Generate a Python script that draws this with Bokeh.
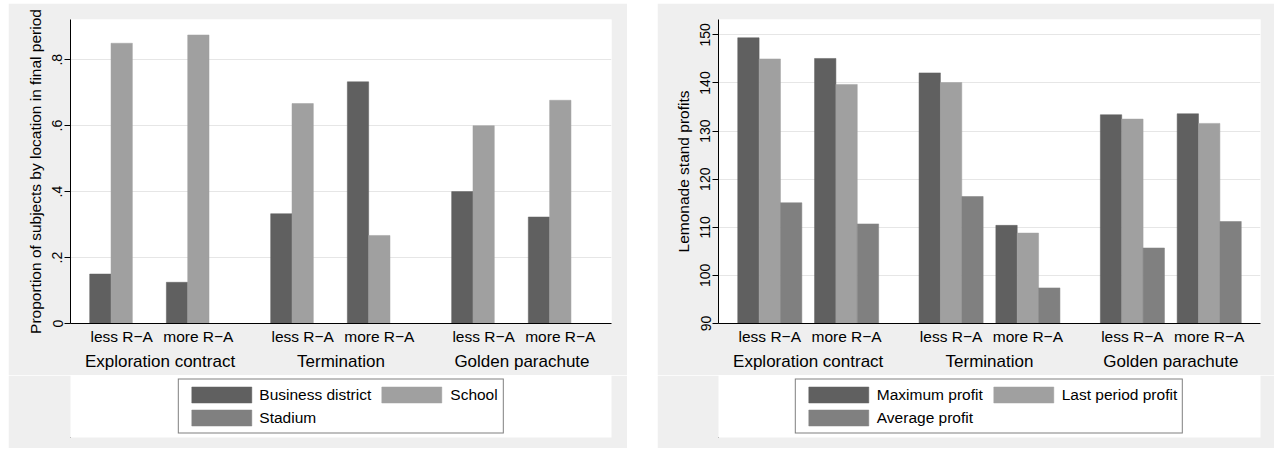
from bokeh.plotting import figure
from bokeh.models import (FactorRange, Range1d, Legend, LegendItem, FixedTicker,
                          ColumnDataSource, Spacer)
from bokeh.layouts import row, column
from bokeh.transform import dodge
from bokeh.embed import file_html
from bokeh.resources import INLINE

# ---------------- data ----------------
contracts = ["Exploration contract", "Termination", "Golden parachute"]
risk_groups = ["less R\u2212A", "more R\u2212A"]

location_series = ["Business district", "School", "Stadium"]
business_district = [0.150, 0.125, 0.333, 0.733, 0.400, 0.323]
school = [0.850, 0.875, 0.667, 0.267, 0.600, 0.677]
stadium = [0.0, 0.0, 0.0, 0.0, 0.0, 0.0]

profit_series = ["Maximum profit", "Last period profit", "Average profit"]
maximum_profit = [149.4, 145.1, 142.1, 110.4, 133.4, 133.6]
last_period_profit = [145.0, 139.7, 140.1, 108.8, 132.5, 131.6]
average_profit = [115.1, 110.7, 116.4, 97.4, 105.7, 111.2]

left_ticks = [0, 0.2, 0.4, 0.6, 0.8]
left_tick_labels = ["0", ".2", ".4", ".6", ".8"]
right_ticks = [90, 100, 110, 120, 130, 140, 150]
right_tick_labels = ["90", "100", "110", "120", "130", "140", "150"]

left_title = "Proportion of subjects by location in final period"
right_title = "Lemonade stand profits"

# ---------------- style ----------------
FONT = "Liberation Sans"
BAR_COLORS = ["#606060", "#a0a0a0", "#808080"]
PANEL_BG = "#efefef"
CHART_H = 372
LEGEND_H = 73
LEGEND_FRAME_H = 62


def make_panel(series_names, series_values, y0, y1, ticks, tick_labels,
               ytitle, width, border_left, border_right):
    factors = [(c, r) for c in contracts for r in risk_groups]
    data = {"x": factors}
    for i, vals in enumerate(series_values):
        data["s%d" % i] = vals
    source = ColumnDataSource(data)

    x_range = FactorRange(*factors, factor_padding=0.198, group_padding=0.63,
                          range_padding=0.30, range_padding_units="absolute")
    p = figure(x_range=x_range, y_range=Range1d(y0, y1), width=width, height=CHART_H,
               output_backend="svg", toolbar_location=None,
               min_border_left=border_left, min_border_right=border_right,
               min_border_top=16, min_border_bottom=CHART_H - 16 - 304)
    p.border_fill_color = PANEL_BG
    p.background_fill_color = "white"
    p.outline_line_color = None

    bw = 1.0 / 3.0
    for i, name in enumerate(series_names):
        p.vbar(x=dodge("x", (i - 1) * bw, range=p.x_range), top="s%d" % i,
               bottom=y0, width=bw, source=source,
               fill_color=BAR_COLORS[i], line_color=BAR_COLORS[i], line_width=0.5)

    # grid
    p.xgrid.grid_line_color = None
    p.ygrid.grid_line_color = "#e6e6e6"
    p.ygrid.grid_line_width = 1.2
    p.ygrid.ticker = FixedTicker(ticks=ticks[1:])

    # y axis
    ya = p.yaxis[0]
    ya.ticker = FixedTicker(ticks=ticks)
    ya.major_label_overrides = {t: l for t, l in zip(ticks, tick_labels)}
    ya.major_label_orientation = "vertical"
    ya.major_label_text_font = FONT
    ya.major_label_text_font_size = "14px"
    ya.major_label_text_color = "black"
    ya.major_label_standoff = 2
    ya.major_tick_out = 6
    ya.major_tick_in = 0
    ya.minor_tick_out = 0
    ya.minor_tick_in = 0
    ya.major_tick_line_color = "black"
    ya.axis_line_color = "black"
    ya.axis_label = ytitle
    ya.axis_label_text_font = FONT
    ya.axis_label_text_font_size = "15.5px"
    ya.axis_label_text_font_style = "normal"
    ya.axis_label_text_color = "black"
    ya.axis_label_standoff = 6

    # x axis
    xa = p.xaxis[0]
    xa.major_tick_out = 0
    xa.major_tick_in = 0
    xa.axis_line_color = "black"
    xa.major_label_text_font = FONT
    xa.major_label_text_font_size = "15.5px"
    xa.major_label_text_color = "black"
    xa.major_label_standoff = 4
    xa.group_text_font = FONT
    xa.group_text_font_size = "17px"
    xa.group_text_font_style = "normal"
    xa.group_text_color = "black"
    xa.separator_line_color = None

    # legend strip (same gray as the panel), frame aligned with the chart frame
    lf = figure(width=width, height=LEGEND_H, output_backend="svg", toolbar_location=None,
                x_axis_location=None, y_axis_location=None,
                x_range=Range1d(1, 2), y_range=Range1d(1, 2),
                min_border_left=border_left, min_border_right=border_right,
                min_border_top=0, min_border_bottom=LEGEND_H - LEGEND_FRAME_H)
    lf.border_fill_color = PANEL_BG
    lf.background_fill_color = None
    lf.outline_line_color = None
    lf.xgrid.grid_line_color = None
    lf.ygrid.grid_line_color = None
    # swatch renderers sit outside the visible range; they only feed the legend
    swatch = ColumnDataSource(dict(x=[0], top=[0]))
    items = {}
    for i, name in enumerate(series_names):
        r = lf.vbar(x="x", top="top", width=0.5, source=swatch,
                    fill_color=BAR_COLORS[i], line_color=BAR_COLORS[i], line_width=0.5)
        items[name] = LegendItem(label=name, renderers=[r])
    # legend fills column-first: order so that rows read series 1, 2 / series 3
    ordered = [items[series_names[0]], items[series_names[2]], items[series_names[1]]]
    legend = Legend(items=ordered, ncols=2, location="center",
                    glyph_width=75, glyph_height=20, label_height=18,
                    label_standoff=1, spacing=3, padding=5, margin=0,
                    border_line_color="black", border_line_width=1,
                    background_fill_color="white", background_fill_alpha=1.0,
                    label_text_font=FONT, label_text_font_size="15.5px",
                    label_text_color="black")
    lf.add_layout(legend, "center")
    return column(p, lf, spacing=0)


left = make_panel(location_series, [business_district, school, stadium],
                  0, 0.922, left_ticks, left_tick_labels, left_title,
                  width=619, border_left=62, border_right=16)
right = make_panel(profit_series, [maximum_profit, last_period_profit, average_profit],
                   90, 153.2, right_ticks, right_tick_labels, right_title,
                   width=617, border_left=61, border_right=14)

H = CHART_H + LEGEND_H
layout = column(Spacer(width=1274, height=3),
                row(Spacer(width=8, height=H), left, Spacer(width=30, height=H), right))

open("out.html", "w").write(file_html(layout, INLINE))
